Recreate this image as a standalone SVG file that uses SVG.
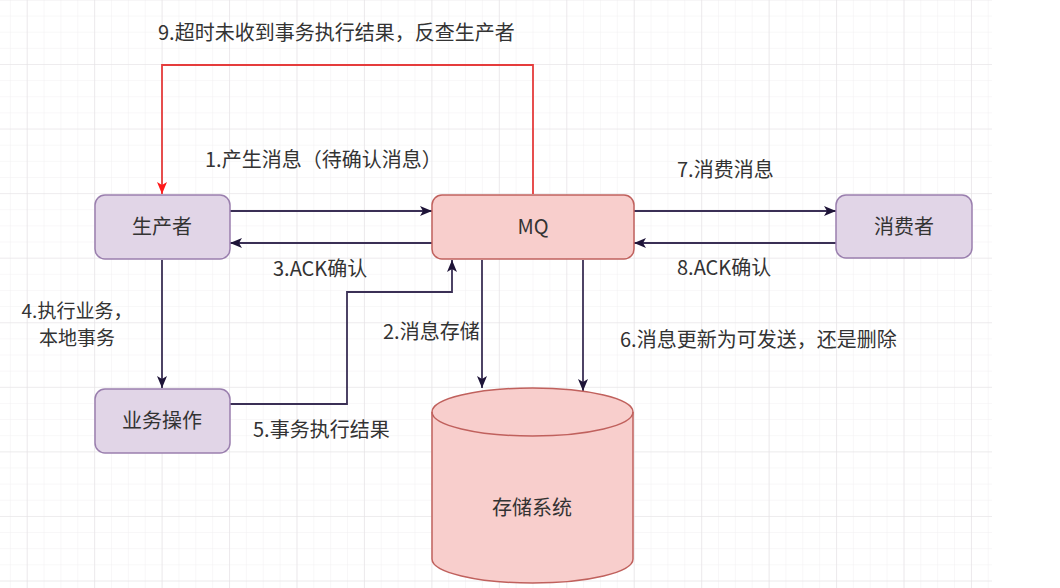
<svg xmlns="http://www.w3.org/2000/svg" width="1060" height="588" viewBox="0 0 1060 588">
  <defs>
    <pattern id="minor" x="26.7" y="-0.57" width="16.86" height="16.14" patternUnits="userSpaceOnUse">
      <path d="M0,0 V16.14 M0,0 H16.86" fill="none" stroke="#f1eff1" stroke-width="1"/>
    </pattern>
    <pattern id="major" x="26.7" y="-0.57" width="67.45" height="64.57" patternUnits="userSpaceOnUse">
      <path d="M0,0 V64.57 M0,0 H67.45" fill="none" stroke="#e4e2e4" stroke-width="1.2"/>
    </pattern>
    <marker id="arr" viewBox="0 0 12 10" refX="12" refY="5" markerWidth="12" markerHeight="10" markerUnits="userSpaceOnUse" orient="auto">
      <path d="M0,0 L12,5 L0,10 L3,5 Z" fill="#1e1438"/>
    </marker>
    <marker id="arrRed" viewBox="0 0 12 10" refX="12" refY="5" markerWidth="12" markerHeight="10" markerUnits="userSpaceOnUse" orient="auto">
      <path d="M0,0 L12,5 L0,10 L3,5 Z" fill="#ff1a1a"/>
    </marker>
  </defs>
  <style>
    .txt { font-family: "Noto Sans CJK SC", "Noto Sans", sans-serif; font-size: 20px; fill: #333333; }
    .small { font-size: 19px; }
    .purple { fill: #e1d5e7; stroke: #9a7fae; stroke-width: 1.5; }
    .red { fill: #f8cecc; stroke: #c0615d; stroke-width: 1.5; }
    .edge { fill: none; stroke: #3a2f55; stroke-width: 1.8; marker-end: url(#arr); }
    .edgeRed { fill: none; stroke: #e53c3c; stroke-width: 1.8; marker-end: url(#arrRed); }
  </style>
  <rect width="1060" height="588" fill="#ffffff"/>
  <rect x="0" y="0" width="992" height="588" fill="url(#minor)"/>
  <rect x="0" y="0" width="992" height="588" fill="url(#major)"/>

  <g id="connectors">
    <path class="edgeRed" d="M533,194 V65 H162 V194"/>
    <path class="edge" d="M230,211 H432"/>
    <path class="edge" d="M432,243 H230"/>
    <path class="edge" d="M634,211 H836"/>
    <path class="edge" d="M836,243 H634"/>
    <path class="edge" d="M162,260 V388"/>
    <path class="edge" d="M230,404 H347 V292 H452 V260"/>
    <path class="edge" d="M482,260 V388"/>
    <path class="edge" d="M583,260 V391"/>
  </g>

  <g id="labels">
    <text class="txt" x="158" y="40">9.超时未收到事务执行结果，反查生产者</text>
    <text class="txt" x="205" y="167">1.产生消息（待确认消息）</text>
    <text class="txt" x="273" y="276">3.ACK确认</text>
    <text class="txt" x="677" y="177">7.消费消息</text>
    <text class="txt" x="677" y="275">8.ACK确认</text>
    <text class="txt small" text-anchor="middle"><tspan x="77" y="318">4.执行业务，</tspan><tspan x="77" y="345">本地事务</tspan></text>
    <text class="txt" x="383" y="339">2.消息存储</text>
    <text class="txt" x="620" y="347">6.消息更新为可发送，还是删除</text>
    <text class="txt" x="253" y="437">5.事务执行结果</text>
  </g>

  <g id="producer">
    <rect class="purple" x="95" y="195" width="135" height="64" rx="10"/>
    <text class="txt" x="162" y="234" text-anchor="middle">生产者</text>
  </g>
  <g id="mq">
    <rect class="red" x="432" y="195" width="202" height="64" rx="10"/>
    <text class="txt" x="533" y="234" text-anchor="middle">MQ</text>
  </g>
  <g id="consumer">
    <rect class="purple" x="836" y="195" width="136" height="63" rx="10"/>
    <text class="txt" x="904" y="234" text-anchor="middle">消费者</text>
  </g>
  <g id="business">
    <rect class="purple" x="95" y="389" width="135" height="64" rx="10"/>
    <text class="txt" x="162" y="428" text-anchor="middle">业务操作</text>
  </g>
  <g id="storage">
    <path class="red" d="M432,412 A100.5,24 0 0 1 633,412 V559 A100.5,24 0 0 1 432,559 Z"/>
    <path d="M432,412 A100.5,24 0 0 0 633,412" fill="none" stroke="#c0615d" stroke-width="1.5"/>
    <text class="txt" x="532" y="515" text-anchor="middle">存储系统</text>
  </g>
</svg>
